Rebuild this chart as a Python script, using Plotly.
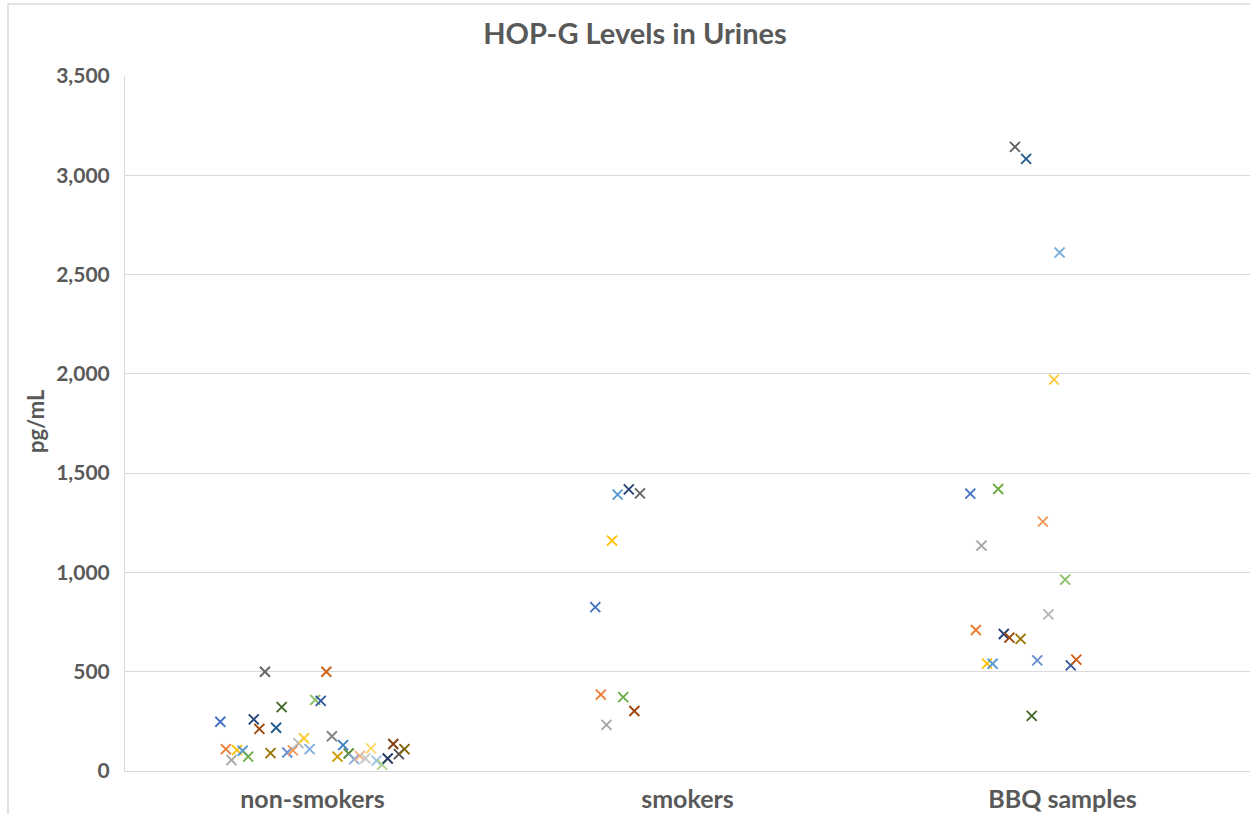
import plotly.graph_objects as go

categories = ["non-smokers", "smokers", "BBQ samples"]

non_smokers = [248, 110, 55, 105, 102, 72, 260, 212, 500, 90, 218, 322, 93, 104, 140,
               165, 110, 358, 353, 500, 175, 72, 130, 88, 60, 76, 64, 114, 52, 32, 63, 136, 85, 110]
smokers = [825, 385, 232, 1160, 1392, 372, 1418, 302, 1398]
bbq = [1397, 710, 1135, 541, 540, 1420, 690, 672, 3143, 665, 3083, 278, 557, 1256,
       789, 1971, 2611, 964, 532, 561]

palette = ["#4472C4", "#ED7D31", "#A5A5A5", "#FFC000", "#5B9BD5", "#70AD47",
           "#264478", "#9E480E", "#636363", "#997300", "#255E91", "#43682B",
           "#698ED0", "#F1975A", "#B7B7B7", "#FFCD33", "#7CAFDD", "#8CC168",
           "#335AA1", "#D26012", "#848484", "#CC9A00", "#3C7DC4", "#5A8A39",
           "#8FAADC", "#F4B183", "#C9C9C9", "#FFD966", "#9DC3E6", "#A9D18E",
           "#203864", "#843C0C", "#525252", "#7F6000"]

y_ticks = [0, 500, 1000, 1500, 2000, 2500, 3000, 3500]

groups = [non_smokers, smokers, bbq]
n_series = len(palette)
slot = 0.01488
start = 0.2467

fig = go.Figure()
for s in range(n_series):
    xs, ys = [], []
    for c, vals in enumerate(groups):
        if s < len(vals):
            xs.append(c + start + (s + 0.5) * slot)
            ys.append(vals[s])
    fig.add_trace(go.Scatter(
        x=xs, y=ys, mode="markers", showlegend=False,
        marker=dict(symbol="x-thin", size=10, color=palette[s],
                    line=dict(width=1.9, color=palette[s])),
        hovertemplate="%{y}<extra></extra>"))

grey = "#595959"
font_fam = "Lato, 'Open Sans', sans-serif"

fig.update_layout(
    width=1250, height=814,
    margin=dict(l=125, r=0, t=76, b=43),
    paper_bgcolor="white", plot_bgcolor="white",
    title=dict(text="HOP-G Levels in Urines", x=635 / 1250, xanchor="center",
               y=1 - 34 / 814, yanchor="middle",
               font=dict(family=font_fam, size=29, color=grey, weight="bold")),
    font=dict(family=font_fam, color=grey),
    xaxis=dict(range=[0, 3], tickvals=[0.5, 1.5, 2.5], ticktext=categories,
               showgrid=False, zeroline=False, showline=True, linecolor="#D9D9D9",
               linewidth=1, ticks="", ticklabelstandoff=6,
               tickfont=dict(family=font_fam, size=25, color=grey, weight="bold")),
    yaxis=dict(range=[0, 3500], tickvals=y_ticks, tickformat=",",
               showgrid=True, gridcolor="#D9D9D9", gridwidth=1,
               zeroline=False, showline=True, linecolor="#D9D9D9", linewidth=1,
               ticks="", ticklabelstandoff=10,
               tickfont=dict(family=font_fam, size=21, color=grey, weight="bold")),
    annotations=[dict(text="pg/mL", xref="paper", yref="paper",
                      x=(35 - 125) / 1125, y=(771 - 421) / 695, textangle=-90,
                      showarrow=False, xanchor="center", yanchor="middle",
                      font=dict(family=font_fam, size=22, color=grey, weight="bold"))],
    shapes=[dict(type="path", xref="paper", yref="paper",
                 path="M {x0},{y0} L {x0},{y1} L {x2},{y1}".format(
                     x0=(8 - 125) / 1125, y0=(771 - 820) / 695,
                     y1=(771 - 4) / 695, x2=1.01),
                 line=dict(color="#D9D9D9", width=1.5))],
)

fig.write_html("out.html", config={"displayModeBar": False},
               post_script="document.body.style.margin='0px';document.body.style.overflow='hidden';")
